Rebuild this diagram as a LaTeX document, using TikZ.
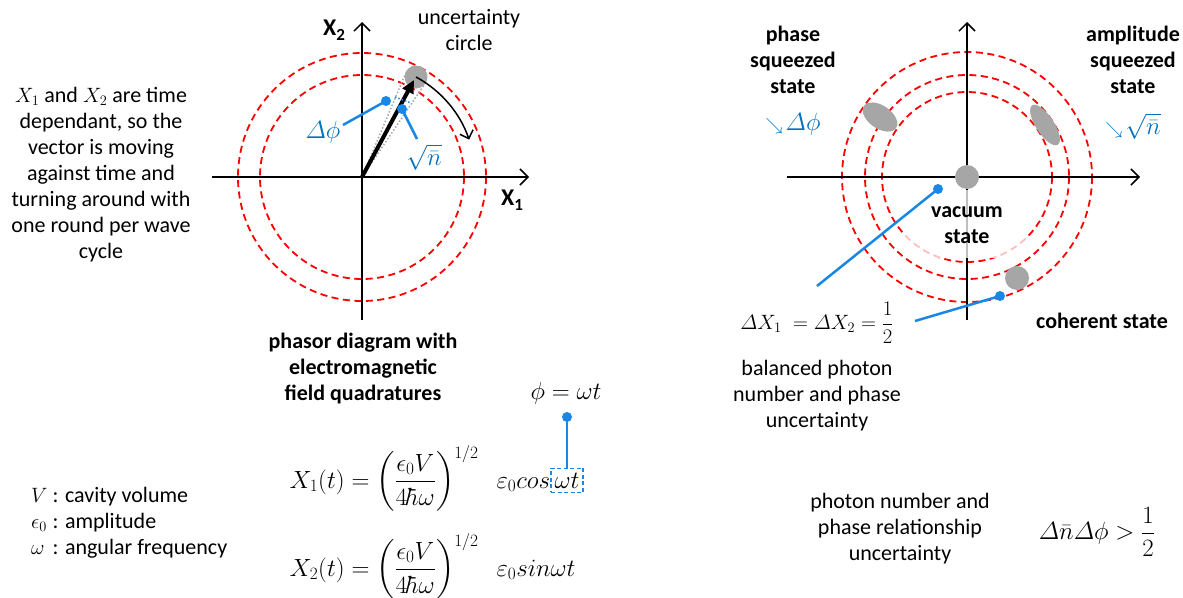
\documentclass[tikz,border=0pt]{standalone}
\usepackage{amsmath}
\usepackage{fontspec}
\setmainfont{Carlito}
\usetikzlibrary{arrows.meta,calc,shapes.geometric}
\definecolor{myred}{RGB}{255,0,0}
\definecolor{myblue}{RGB}{25,135,230}
\definecolor{tblue}{RGB}{0,112,192}
\definecolor{mygray}{RGB}{166,166,166}
\newcommand{\axsub}[1]{\raisebox{-5pt}{\fontsize{17}{17}\selectfont #1}}
\begin{document}
\begin{tikzpicture}[x=1pt,y=-1pt]
\tikzset{
 axis/.style={line width=1.5pt, -{Straight Barb[length=8pt,width=16pt,line width=1.5pt]}},
 rcirc/.style={draw=myred, line width=1.8pt, dash pattern=on 7pt off 4.5pt},
 bline/.style={draw=myblue, line width=2.5pt},
 bdot/.style={circle, fill=myblue, inner sep=0, minimum size=10pt},
 gblob/.style={fill=mygray, draw=none, inner sep=0},
 txt/.style={font=\fontsize{22}{26}\selectfont, align=center, inner sep=0},
 btxt/.style={font=\fontsize{22}{26}\selectfont\bfseries, align=center, inner sep=0},
 axlbl/.style={font=\fontsize{24}{24}\selectfont\bfseries, inner sep=0},
 mth/.style={font=\fontsize{22}{26}\selectfont, inner sep=0},
 mthL/.style={font=\fontsize{25}{28}\selectfont, inner sep=0},
 btext/.style={font=\fontsize{24}{26}\selectfont, text=tblue, inner sep=0},
}
\useasboundingbox (0,0) rectangle (1183,597);

% ---------------- left phasor diagram ----------------
\coordinate (O) at (362,177);
\draw[rcirc] (O) circle[radius=102];
\draw[rcirc] (O) circle[radius=124];
\coordinate (xl) at (212,177);
\coordinate (xr) at (529,177);
\coordinate (yb) at (362,320);
\coordinate (yt) at (362,22);
\draw[axis] (xl) -- (xr);
\draw[axis] (yb) -- (yt);
\node[axlbl] (x2lab) at (334,30) {X\axsub{2}};
\node[axlbl] (x1lab) at (512,200) {X\axsub{1}};

\node[gblob, circle, minimum size=23pt] (unc) at (416,77) {};
\coordinate (t1) at ($(O)+(-56:112)$);
\coordinate (t2) at ($(O)+(-67.2:112)$);
\draw[gray!70, line width=1.5pt, dotted] (O) -- (t1);
\draw[gray!70, line width=1.5pt, dotted] (O) -- (t2);
\coordinate (vtip) at (414,80);
\draw[line width=4pt, -{Triangle[length=13pt,width=12pt]}] (O) -- (vtip);
\coordinate (bd1) at (395,97);
\coordinate (bd2) at (411,103);
\draw[myblue, line width=1.5pt, dotted] (bd1) -- (bd2);
\draw[line width=1.5pt, -{Straight Barb[length=7pt,width=14pt,line width=1.5pt]}] (unc.center) arc[start angle=-61.6, end angle=-19, radius=113];

\node[txt] (unclab) at (469,30) {uncertainty\\circle};

\node[bdot] (dphi) at (386,101) {};
\coordinate (dphie) at (343,125);
\draw[bline] (dphi.center) -- (dphie);
\node[btext] (dphilab) at (323,132) {$\varDelta\phi$};
\node[bdot] (dn) at (402,109) {};
\coordinate (dne) at (417,139);
\draw[bline] (dn.center) -- (dne);
\node[btext] (dnlab) at (424,157) {$\sqrt{\bar n}$};

\node[txt] (lefttext) at (101,174.5) {$X_1$ and $X_2$ are time\\dependant, so the\\vector is moving\\against time and\\turning around with\\one round per wave\\cycle};

\node[btxt] (phasor) at (363,369) {phasor diagram with\\electromagnetic\\field quadratures};

% ---------------- formulas ----------------
\node[font=\fontsize{26}{28}\selectfont, inner sep=0] (phidef) at (566,393) {$\phi=\omega t$};
\node[mthL, anchor=base, draw=myblue, dash pattern=on 4pt off 2.5pt, line width=1.5pt, inner sep=1.5pt, minimum height=24pt, minimum width=32pt] (wt) at (567,488) {$\omega t$};
\node[mthL, anchor=base east] (x1f) at (wt.base west) {$X_1(t)=\left(\dfrac{\epsilon_0 V}{4\hbar\omega}\right)^{1/2}\;\;\varepsilon_0 cos$};
\node[bdot] (phidot) at (567,417) {};
\draw[bline] (phidot.center) -- (wt.north);
\coordinate (x2base) at (0,576);
\node[mthL, anchor=base west] (x2f) at (x1f.base west |- x2base) {$X_2(t)=\left(\dfrac{\epsilon_0 V}{4\hbar\omega}\right)^{1/2}\;\;\varepsilon_0 sin\omega t$};

\node[txt, anchor=west, align=left] (legend) at (31,523) {%
\begin{tabular}{@{}l@{\ }l@{}}
$V$ & : cavity volume\\
$\epsilon_0$ & : amplitude\\
$\omega$ & : angular frequency
\end{tabular}};

% ---------------- right diagram ----------------
\coordinate (R) at (967,177);
\draw[rcirc] (R) circle[radius=85];
\draw[rcirc] (R) circle[radius=102];
\draw[rcirc] (R) circle[radius=125];
\coordinate (rxl) at (787,177);
\coordinate (rxr) at (1140,177);
\coordinate (ryb) at (967,320);
\coordinate (ryt) at (967,22);
\draw[axis] (rxl) -- (rxr);
\draw[axis] (ryb) -- (ryt);
\fill[white, opacity=0.75] (905,190) rectangle (1027,258);

\node[gblob, circle, minimum size=24pt] (vac) at (R) {};
\node[gblob, circle, minimum size=24pt] (coh) at (1017,278) {};
\node[gblob, ellipse, minimum width=39pt, minimum height=23pt, rotate=-34.6] (pss) at (880,117) {};
\node[gblob, ellipse, minimum width=47pt, minimum height=18pt, rotate=-57] (ass) at (1045,125) {};

\node[btxt] (vaclab) at (967,225) {vacuum\\state};
\node[btxt] (psslab) at (793,60) {phase\\squeezed\\state};
\node[btxt] (asslab) at (1133,60) {amplitude\\squeezed\\state};
\node[btext] (psssym) at (793,124) {$\scriptstyle\searrow\,$$\varDelta\phi$};
\node[btext] (asssym) at (1133,126) {$\scriptstyle\searrow\,$$\sqrt{\bar n}$};
\node[btxt] (cohlab) at (1102,321) {coherent state};

\node[bdot] (vdot) at (938,189) {};
\coordinate (vend) at (817,286);
\draw[bline] (vdot.center) -- (vend);
\node[bdot] (cdot) at (1000,296) {};
\coordinate (cend) at (915,321);
\draw[bline] (cdot.center) -- (cend);

\node[mth] (dxeq) at (817,323) {$\varDelta X_1\;=\varDelta X_2=\dfrac{1}{2}$};
\node[txt] (balanced) at (817,396) {balanced photon\\number and phase\\uncertainty};
\node[txt] (relation) at (900,529) {photon number and\\phase relationship\\uncertainty};
\node[mthL] (ineq) at (1097,532) {$\varDelta\bar n\varDelta\phi>\dfrac{1}{2}$};
\end{tikzpicture}
\end{document}
